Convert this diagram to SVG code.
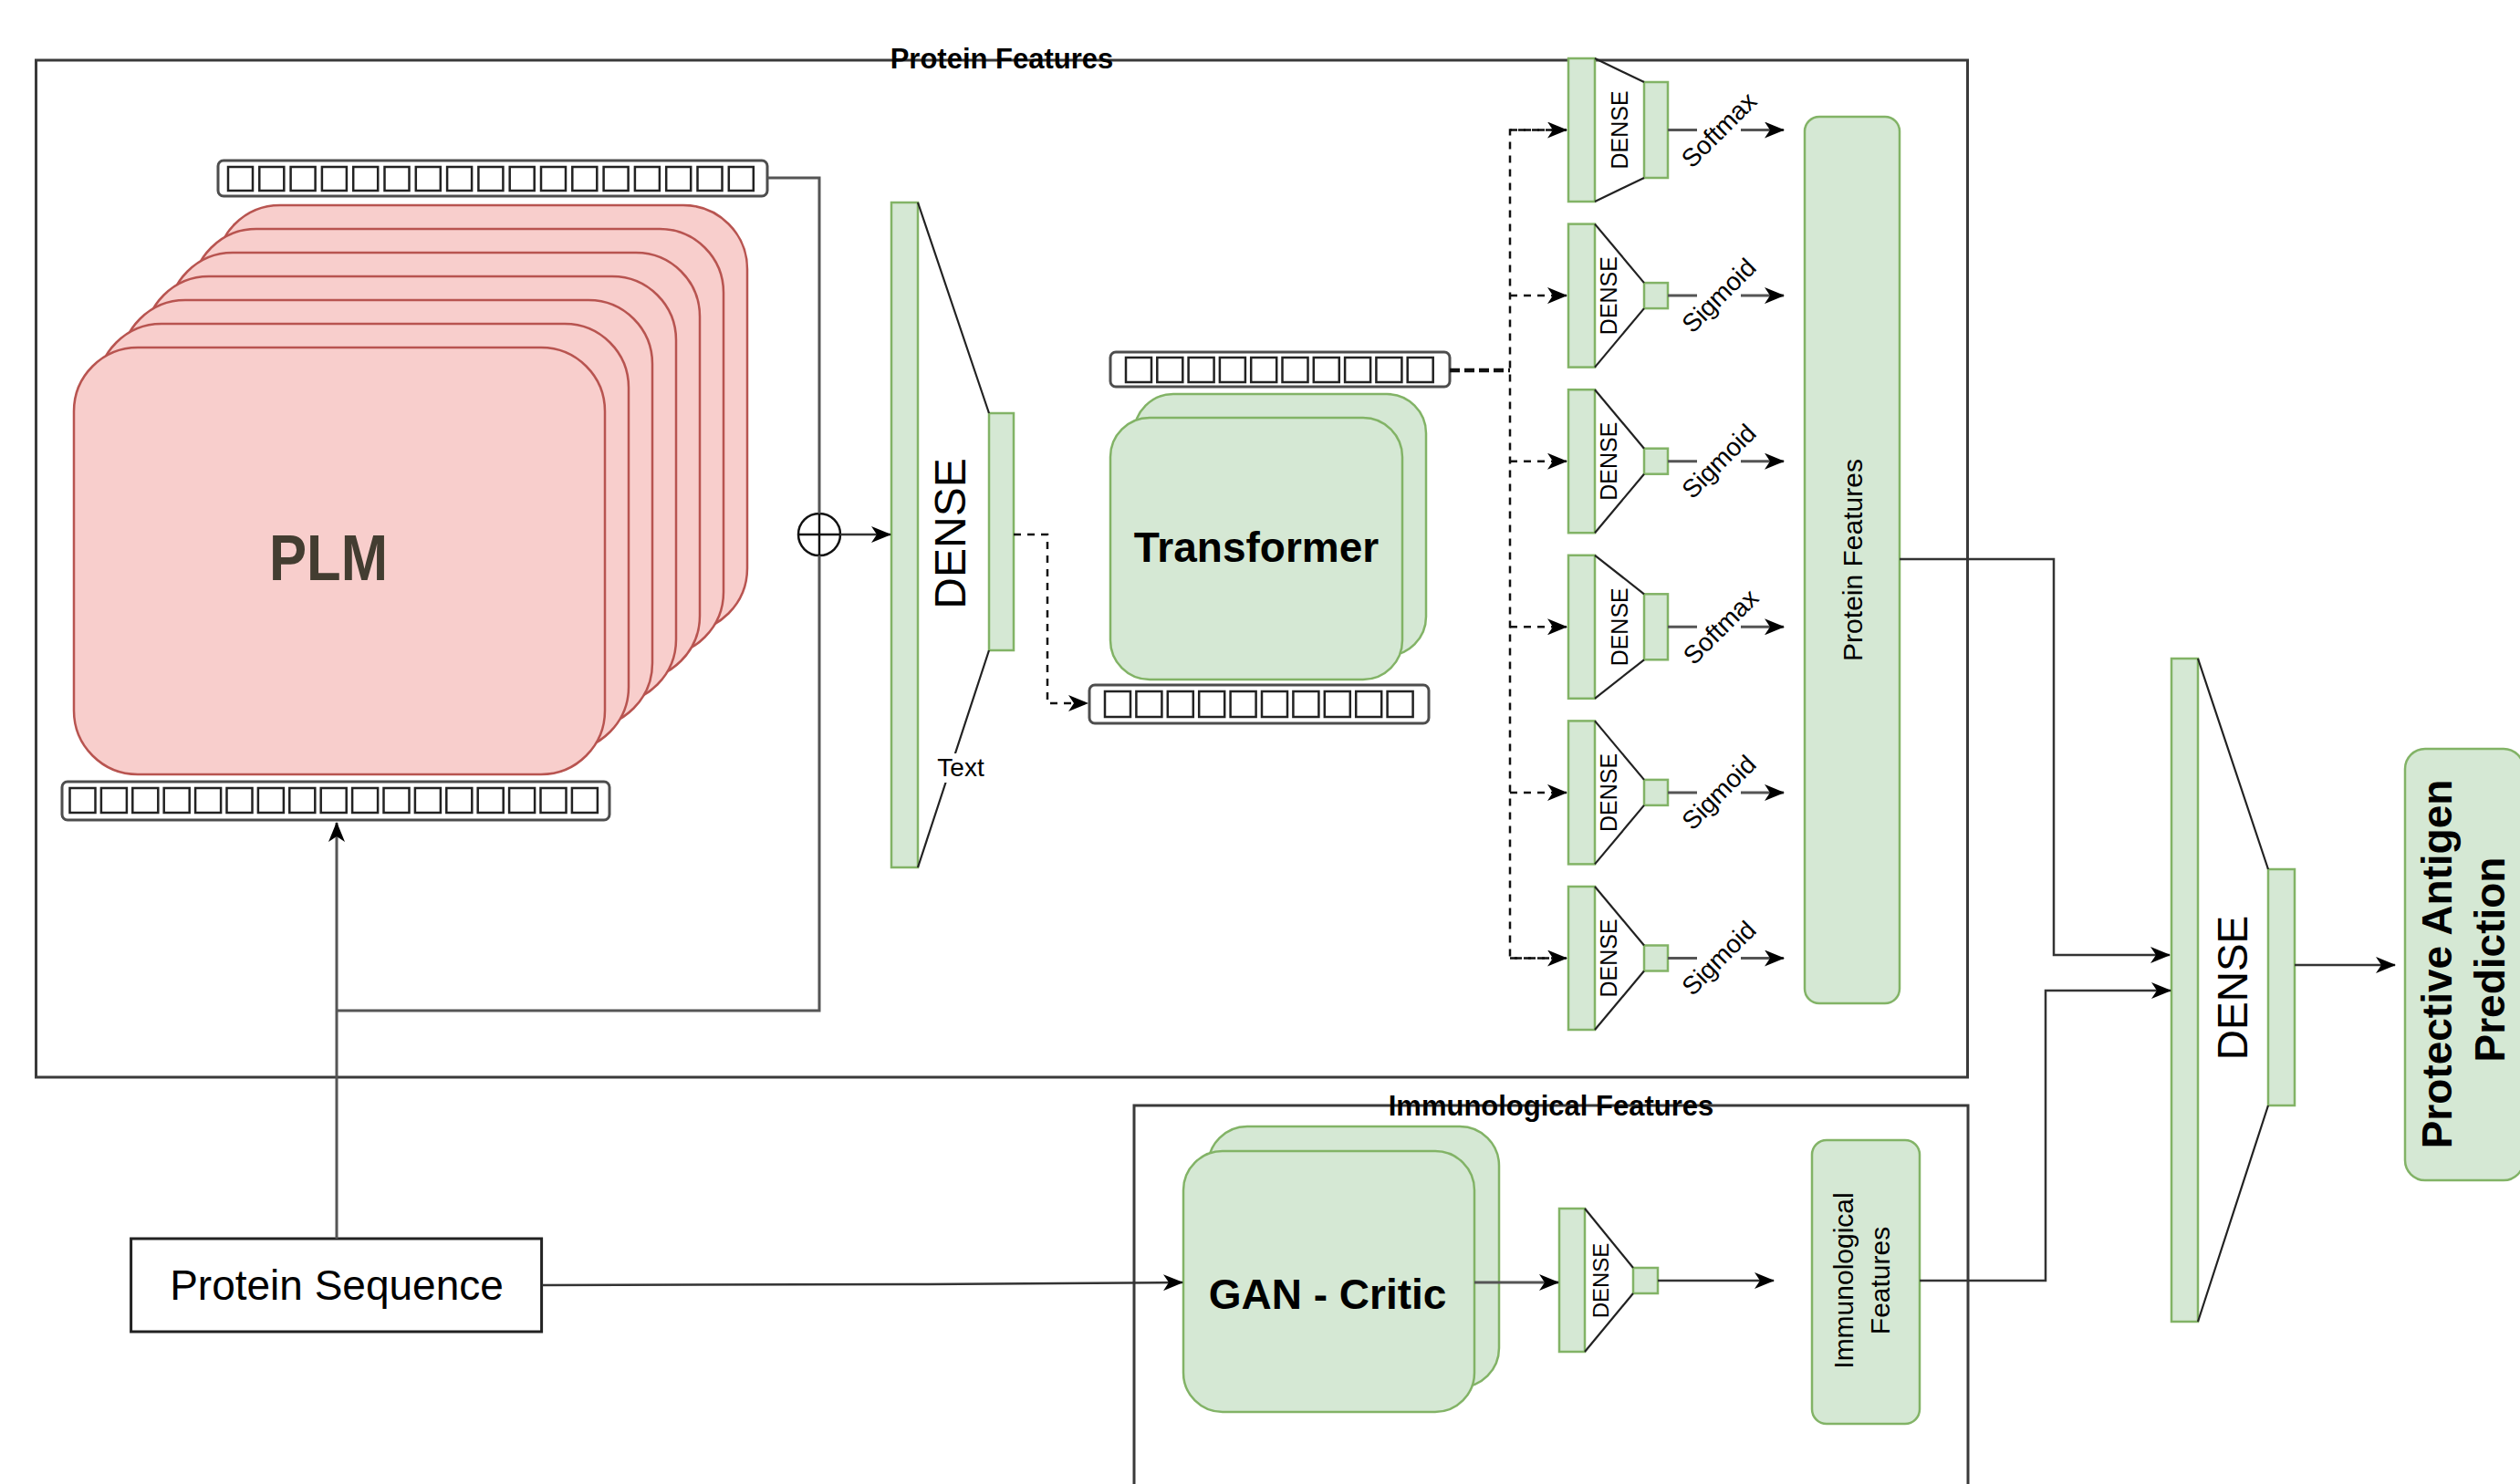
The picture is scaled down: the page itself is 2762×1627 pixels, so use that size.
<svg xmlns="http://www.w3.org/2000/svg" width="2762" height="1627" viewBox="0 0 2762 1627">
<defs>
<style>
text{font-family:"Liberation Sans",Arial,sans-serif;fill:#000}
.frame{fill:none;stroke:#3a3a3a;stroke-width:3}
.g{fill:#d5e8d4;stroke:#82b366;stroke-width:2.5}
.r{fill:#f8cecc;stroke:#b85450;stroke-width:2.5}
.ln{fill:none;stroke:#333;stroke-width:2.5}
.gl{fill:none;stroke:#555;stroke-width:3}
.dl{fill:none;stroke:#111;stroke-width:2.5;stroke-dasharray:8 7}
.tdl{fill:none;stroke:#111;stroke-width:4.5;stroke-dasharray:11 5}
.bar{fill:#fff;stroke:#4d4d4d;stroke-width:3}
.sq{fill:#fff;stroke:#222;stroke-width:2.5}
.tl{fill:none;stroke:#222;stroke-width:2.2}
.b{font-weight:bold}
</style>
<marker id="ah" viewBox="0 0 22 18" refX="21" refY="9" markerWidth="22" markerHeight="18" markerUnits="userSpaceOnUse" orient="auto">
<path d="M0,0 L22,9 L0,18 L6,9 z" fill="#000"/>
</marker>
</defs>
<rect width="2762" height="1627" fill="#fff"/>

<g id="protein-features-frame">
<rect class="frame" x="39.5" y="66" width="2117" height="1115"/>
<text class="b" x="1098" y="75" font-size="31" text-anchor="middle">Protein Features</text>
</g>

<g id="immunological-features-frame">
<path class="frame" d="M1243,1640 V1212 H2157 V1640"/>
<text class="b" x="1700" y="1223" font-size="31" text-anchor="middle">Immunological Features</text>
</g>

<g id="plm">
<rect class="r" x="237" y="225" width="582" height="468" rx="70"/>
<rect class="r" x="211" y="251" width="582" height="468" rx="70"/>
<rect class="r" x="185" y="277" width="582" height="468" rx="70"/>
<rect class="r" x="159" y="303" width="582" height="468" rx="70"/>
<rect class="r" x="133" y="329" width="582" height="468" rx="70"/>
<rect class="r" x="107" y="355" width="582" height="468" rx="70"/>
<rect class="r" x="81" y="381" width="582" height="468" rx="70"/>
<text class="b" x="360" y="636" font-size="70" text-anchor="middle" textLength="130" lengthAdjust="spacingAndGlyphs" style="fill:#433d31">PLM</text>
</g>

<g id="plm-output-embedding">
<rect class="bar" x="239" y="176" width="602" height="39" rx="6"/>
<rect class="sq" x="250" y="183" width="27" height="26"/>
<rect class="sq" x="284.3" y="183" width="27" height="26"/>
<rect class="sq" x="318.6" y="183" width="27" height="26"/>
<rect class="sq" x="352.9" y="183" width="27" height="26"/>
<rect class="sq" x="387.2" y="183" width="27" height="26"/>
<rect class="sq" x="421.5" y="183" width="27" height="26"/>
<rect class="sq" x="455.8" y="183" width="27" height="26"/>
<rect class="sq" x="490.1" y="183" width="27" height="26"/>
<rect class="sq" x="524.4" y="183" width="27" height="26"/>
<rect class="sq" x="558.7" y="183" width="27" height="26"/>
<rect class="sq" x="593" y="183" width="27" height="26"/>
<rect class="sq" x="627.3" y="183" width="27" height="26"/>
<rect class="sq" x="661.6" y="183" width="27" height="26"/>
<rect class="sq" x="695.9" y="183" width="27" height="26"/>
<rect class="sq" x="730.2" y="183" width="27" height="26"/>
<rect class="sq" x="764.5" y="183" width="27" height="26"/>
<rect class="sq" x="798.8" y="183" width="27" height="26"/>
</g>

<g id="plm-input-embedding">
<rect class="bar" x="68" y="857" width="600" height="42" rx="6"/>
<rect class="sq" x="76.5" y="864" width="28" height="27"/>
<rect class="sq" x="110.9" y="864" width="28" height="27"/>
<rect class="sq" x="145.3" y="864" width="28" height="27"/>
<rect class="sq" x="179.7" y="864" width="28" height="27"/>
<rect class="sq" x="214.1" y="864" width="28" height="27"/>
<rect class="sq" x="248.5" y="864" width="28" height="27"/>
<rect class="sq" x="282.9" y="864" width="28" height="27"/>
<rect class="sq" x="317.3" y="864" width="28" height="27"/>
<rect class="sq" x="351.7" y="864" width="28" height="27"/>
<rect class="sq" x="386.1" y="864" width="28" height="27"/>
<rect class="sq" x="420.5" y="864" width="28" height="27"/>
<rect class="sq" x="454.9" y="864" width="28" height="27"/>
<rect class="sq" x="489.3" y="864" width="28" height="27"/>
<rect class="sq" x="523.7" y="864" width="28" height="27"/>
<rect class="sq" x="558.1" y="864" width="28" height="27"/>
<rect class="sq" x="592.5" y="864" width="28" height="27"/>
<rect class="sq" x="626.9" y="864" width="28" height="27"/>
</g>

<g id="sum-node">
<circle cx="898" cy="586" r="23" fill="#fff" stroke="#111" stroke-width="2.5"/>
<path d="M875,586 H921 M898,563 V609" stroke="#111" stroke-width="2.5"/>
</g>

<g id="dense-main">
<rect class="g" x="977" y="222" width="29" height="729"/>
<rect class="g" x="1084" y="453" width="27" height="260"/>
<path class="tl" d="M1006,222 L1084,453 M1084,713 L1006,951"/>
<rect x="1024" y="826" width="58" height="32" fill="#fff"/>
<text x="1053" y="851" font-size="28" text-anchor="middle">Text</text>
<text transform="translate(1058,585) rotate(-90)" font-size="48" text-anchor="middle">DENSE</text>
</g>

<g id="transformer">
<rect class="g" x="1243" y="432" width="320" height="287" rx="43"/>
<rect class="g" x="1217" y="458" width="320" height="287" rx="43"/>
<text class="b" x="1377" y="616" font-size="46" text-anchor="middle">Transformer</text>
</g>

<g id="transformer-output-embedding">
<rect class="bar" x="1217" y="386" width="372" height="38" rx="6"/>
<rect class="sq" x="1234" y="392" width="28" height="27"/>
<rect class="sq" x="1268.3" y="392" width="28" height="27"/>
<rect class="sq" x="1302.6" y="392" width="28" height="27"/>
<rect class="sq" x="1336.9" y="392" width="28" height="27"/>
<rect class="sq" x="1371.2" y="392" width="28" height="27"/>
<rect class="sq" x="1405.5" y="392" width="28" height="27"/>
<rect class="sq" x="1439.8" y="392" width="28" height="27"/>
<rect class="sq" x="1474.1" y="392" width="28" height="27"/>
<rect class="sq" x="1508.4" y="392" width="28" height="27"/>
<rect class="sq" x="1542.7" y="392" width="28" height="27"/>
</g>

<g id="transformer-input-embedding">
<rect class="bar" x="1194" y="751" width="372" height="42" rx="6"/>
<rect class="sq" x="1211" y="758" width="28" height="28"/>
<rect class="sq" x="1245.4" y="758" width="28" height="28"/>
<rect class="sq" x="1279.8" y="758" width="28" height="28"/>
<rect class="sq" x="1314.2" y="758" width="28" height="28"/>
<rect class="sq" x="1348.6" y="758" width="28" height="28"/>
<rect class="sq" x="1383" y="758" width="28" height="28"/>
<rect class="sq" x="1417.4" y="758" width="28" height="28"/>
<rect class="sq" x="1451.8" y="758" width="28" height="28"/>
<rect class="sq" x="1486.2" y="758" width="28" height="28"/>
<rect class="sq" x="1520.6" y="758" width="28" height="28"/>
</g>

<g id="head-1">
<rect class="g" x="1719" y="64" width="29" height="157"/>
<rect class="g" x="1802" y="90" width="26" height="105"/>
<path class="tl" d="M1748,64 L1802,90 M1748,221 L1802,195"/>
<text transform="translate(1784,142.5) rotate(-90)" font-size="25" text-anchor="middle">DENSE</text>
</g>
<g id="head-2">
<rect class="g" x="1719" y="245.6" width="29" height="157"/>
<rect class="g" x="1802" y="310.1" width="26" height="28"/>
<path class="tl" d="M1748,245.6 L1802,310.1 M1748,402.6 L1802,338.1"/>
<text transform="translate(1772,324.1) rotate(-90)" font-size="25" text-anchor="middle">DENSE</text>
</g>
<g id="head-3">
<rect class="g" x="1719" y="427.2" width="29" height="157"/>
<rect class="g" x="1802" y="491.7" width="26" height="28"/>
<path class="tl" d="M1748,427.2 L1802,491.7 M1748,584.2 L1802,519.7"/>
<text transform="translate(1772,505.7) rotate(-90)" font-size="25" text-anchor="middle">DENSE</text>
</g>
<g id="head-4">
<rect class="g" x="1719" y="608.8" width="29" height="157"/>
<rect class="g" x="1802" y="651.3" width="26" height="72"/>
<path class="tl" d="M1748,608.8 L1802,651.3 M1748,765.8 L1802,723.3"/>
<text transform="translate(1784,687.3) rotate(-90)" font-size="25" text-anchor="middle">DENSE</text>
</g>
<g id="head-5">
<rect class="g" x="1719" y="790.4" width="29" height="157"/>
<rect class="g" x="1802" y="854.9" width="26" height="28"/>
<path class="tl" d="M1748,790.4 L1802,854.9 M1748,947.4 L1802,882.9"/>
<text transform="translate(1772,868.9) rotate(-90)" font-size="25" text-anchor="middle">DENSE</text>
</g>
<g id="head-6">
<rect class="g" x="1719" y="972" width="29" height="157"/>
<rect class="g" x="1802" y="1036.5" width="26" height="28"/>
<path class="tl" d="M1748,972 L1802,1036.5 M1748,1129 L1802,1064.5"/>
<text transform="translate(1772,1050.5) rotate(-90)" font-size="25" text-anchor="middle">DENSE</text>
</g>

<g id="protein-features">
<rect class="g" x="1978" y="128" width="104" height="972" rx="16"/>
<text transform="translate(2041,614) rotate(-90)" font-size="30" text-anchor="middle">Protein Features</text>
</g>

<g id="dense-final">
<rect class="g" x="2380" y="722" width="29" height="727"/>
<rect class="g" x="2486" y="953" width="29" height="259"/>
<path class="tl" d="M2409,722 L2486,953 M2486,1212 L2409,1449"/>
<text transform="translate(2463,1083) rotate(-90)" font-size="46" text-anchor="middle">DENSE</text>
</g>

<g id="prediction">
<rect class="g" x="2636" y="821" width="130" height="473" rx="22"/>
<text class="b" transform="translate(2686.5,1057) rotate(-90)" font-size="46" text-anchor="middle">Protective Antigen</text>
<text class="b" transform="translate(2745,1052) rotate(-90)" font-size="46" text-anchor="middle">Prediction</text>
</g>

<g id="protein-sequence">
<rect x="143.6" y="1358" width="450" height="102" fill="#fff" stroke="#222" stroke-width="3"/>
<text x="369" y="1425" font-size="46" text-anchor="middle">Protein Sequence</text>
</g>

<g id="gan-critic">
<rect class="g" x="1324" y="1235" width="319" height="286" rx="43"/>
<rect class="g" x="1297" y="1262" width="319" height="286" rx="43"/>
<text class="b" x="1455" y="1435" font-size="46" text-anchor="middle">GAN - Critic</text>
</g>

<g id="dense-gan">
<rect class="g" x="1709" y="1325" width="28" height="157"/>
<rect class="g" x="1790" y="1390" width="27" height="28"/>
<path class="tl" d="M1737,1325 L1790,1390 M1737,1482 L1790,1418"/>
<text transform="translate(1763,1404) rotate(-90)" font-size="24" text-anchor="middle">DENSE</text>
</g>

<g id="immunological-features">
<rect class="g" x="1986" y="1250" width="118" height="311" rx="16"/>
<text transform="translate(2031,1404) rotate(-90)" font-size="30" text-anchor="middle">Immunological</text>
<text transform="translate(2071,1404) rotate(-90)" font-size="30" text-anchor="middle">Features</text>
</g>

<g id="connectors">
<path class="gl" d="M369,1358 V902" marker-end="url(#ah)"/>
<path class="gl" d="M369,1108 H898 V609"/>
<path class="gl" d="M841,195 H898 V563"/>
<path class="ln" d="M921,586 H976" marker-end="url(#ah)"/>
<path class="dl" d="M1111,586 H1148 V771 H1192" marker-end="url(#ah)"/>
<path class="tdl" d="M1589,406 H1655"/>
<path class="dl" d="M1717,142.5 H1655 V1050.5 H1717"/>
<path class="dl" d="M1655,142.5 H1717" marker-end="url(#ah)"/>
<path class="dl" d="M1655,324.1 H1717" marker-end="url(#ah)"/>
<path class="dl" d="M1655,505.7 H1717" marker-end="url(#ah)"/>
<path class="dl" d="M1655,687.3 H1717" marker-end="url(#ah)"/>
<path class="dl" d="M1655,868.9 H1717" marker-end="url(#ah)"/>
<path class="dl" d="M1655,1050.5 H1717" marker-end="url(#ah)"/>
<path class="gl" d="M1828,142.5 H1860 M1828,324.1 H1860 M1828,505.7 H1860 M1828,687.3 H1860 M1828,868.9 H1860 M1828,1050.5 H1860"/>
<path class="gl" d="M1908,142.5 H1955" marker-end="url(#ah)"/>
<path class="gl" d="M1908,324.1 H1955" marker-end="url(#ah)"/>
<path class="gl" d="M1908,505.7 H1955" marker-end="url(#ah)"/>
<path class="gl" d="M1908,687.3 H1955" marker-end="url(#ah)"/>
<path class="gl" d="M1908,868.9 H1955" marker-end="url(#ah)"/>
<path class="gl" d="M1908,1050.5 H1955" marker-end="url(#ah)"/>
<g font-size="28" text-anchor="middle" dominant-baseline="central" style="fill:#222">
<text transform="translate(1884,142.5) rotate(-45)">Softmax</text>
<text transform="translate(1884,324.1) rotate(-45)">Sigmoid</text>
<text transform="translate(1884,505.7) rotate(-45)">Sigmoid</text>
<text transform="translate(1886,687.3) rotate(-45)">Softmax</text>
<text transform="translate(1884,868.9) rotate(-45)">Sigmoid</text>
<text transform="translate(1884,1050.5) rotate(-45)">Sigmoid</text>
</g>
<path class="ln" d="M2082,613 H2251 V1047 H2378" marker-end="url(#ah)"/>
<path class="ln" d="M2104,1404 H2242 V1086 H2379" marker-end="url(#ah)"/>
<path class="ln" d="M2515,1058 H2625" marker-end="url(#ah)"/>
<path class="ln" d="M594,1409 L1000,1408 L1296,1406" marker-end="url(#ah)"/>
<path class="gl" d="M1616,1406 H1708" marker-end="url(#ah)"/>
<path class="ln" d="M1817,1404 H1944" marker-end="url(#ah)"/>
</g>
</svg>
